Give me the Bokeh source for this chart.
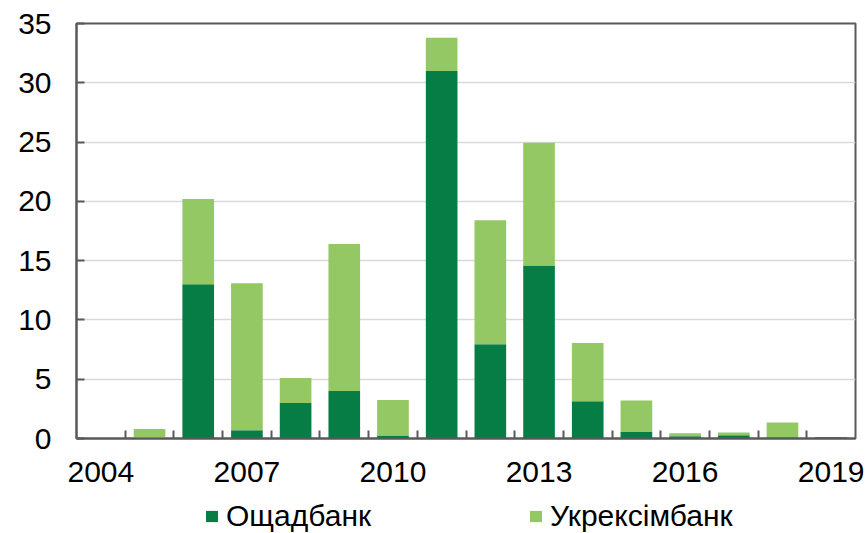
from bokeh.plotting import figure
from bokeh.models import FixedTicker, Legend, LegendItem, ColumnDataSource
from bokeh.layouts import column
from bokeh.embed import file_html
from bokeh.resources import INLINE

years = list(range(2004, 2020))
oschadbank = [0, 0, 13.0, 0.7, 3.0, 4.0, 0.25, 31.0, 7.95, 14.6, 3.15, 0.55, 0.2, 0.28, 0.1, 0.1]
ukreximbank = [0, 0.8, 7.2, 12.4, 2.1, 12.4, 3.0, 2.8, 10.45, 10.35, 4.9, 2.65, 0.25, 0.22, 1.25, 0.0]
series_names = ["Ощадбанк", "Укрексімбанк"]
x_labels = [2004, 2007, 2010, 2013, 2016, 2019]
y_ticks = [0, 5, 10, 15, 20, 25, 30, 35]

DARK = "#077D46"
LIGHT = "#93C864"
AXIS = "#595959"
FONT = "Liberation Sans"
FS = "30px"

src = ColumnDataSource(dict(year=years, osc=oschadbank, ukr=ukreximbank))

p = figure(width=866, height=490, output_backend="svg", toolbar_location=None,
           x_range=(years[0] - 0.5, years[-1] + 0.5), y_range=(0, 35),
           min_border_left=76, min_border_right=11, min_border_top=23, min_border_bottom=52)

rs = p.vbar_stack(["osc", "ukr"], x="year", width=0.65, source=src,
                  color=[DARK, LIGHT], line_color=None)

# axes
p.xaxis.ticker = FixedTicker(ticks=x_labels,
                             minor_ticks=[y + 0.5 for y in years[:-1]])
p.xaxis.major_tick_line_color = None
p.xaxis.minor_tick_in = 8
p.xaxis.minor_tick_out = 0
p.xaxis.minor_tick_line_color = AXIS
p.xaxis.minor_tick_line_width = 2
p.xaxis.axis_line_color = AXIS
p.xaxis.axis_line_width = 2
p.xaxis.major_label_standoff = 17
p.xaxis.major_label_text_font = FONT
p.xaxis.major_label_text_font_size = FS
p.xaxis.major_label_text_color = "#000000"

p.yaxis.ticker = FixedTicker(ticks=y_ticks)
p.yaxis.major_tick_in = 8
p.yaxis.major_tick_out = 0
p.yaxis.major_tick_line_color = AXIS
p.yaxis.major_tick_line_width = 2
p.yaxis.minor_tick_line_color = None
p.yaxis.axis_line_color = AXIS
p.yaxis.axis_line_width = 2
p.yaxis.major_label_standoff = 25
p.yaxis.major_label_text_font = FONT
p.yaxis.major_label_text_font_size = FS
p.yaxis.major_label_text_color = "#000000"

p.xgrid.grid_line_color = None
p.ygrid.grid_line_color = "#D9D9D9"
p.ygrid.grid_line_width = 1.5

p.outline_line_color = AXIS
p.outline_line_width = 2
p.background_fill_color = "white"
p.border_fill_color = "white"

# legend strip: a second figure whose (off-range) stacked bars supply the legend glyphs
lg = figure(width=866, height=43, output_backend="svg", toolbar_location=None,
            x_range=p.x_range, y_range=(100, 101),
            min_border_left=76, min_border_right=11, min_border_top=0, min_border_bottom=0)
lg.axis.visible = False
lg.grid.grid_line_color = None
lg.outline_line_color = None
lrs = lg.vbar_stack(["osc", "ukr"], x="year", width=0.65, source=src,
                    color=[DARK, LIGHT], line_color=None)

legend = Legend(items=[LegendItem(label=series_names[0], renderers=[lrs[0]]),
                       LegendItem(label=series_names[1], renderers=[lrs[1]])],
                orientation="horizontal", location=(128, 0),
                glyph_width=15, glyph_height=14, label_standoff=7, spacing=157,
                padding=0, margin=0, border_line_color=None,
                background_fill_alpha=0, label_text_font=FONT,
                label_text_color="#000000",
                label_text_font_size=FS, label_height=24)
lg.add_layout(legend, "center")

layout = column(p, lg, spacing=0)
open("out.html", "w").write(file_html(layout, INLINE))
